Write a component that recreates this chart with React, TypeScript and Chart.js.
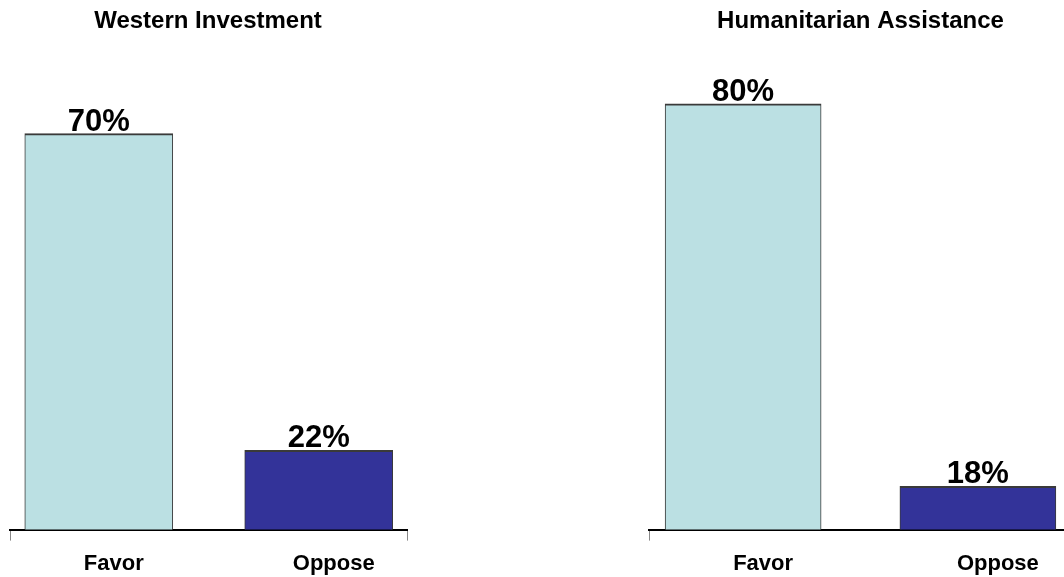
import React, { useEffect, useRef } from "react";
import { Chart, registerables } from "chart.js";

Chart.register(...registerables);

const categories = ["Favor", "Oppose"];
const westernValues = [70, 22];
const humanitarianValues = [80, 18];
const panelTitles = ["Western Investment", "Humanitarian Assistance"];
const barColors = ["#BBE0E3", "#333399"];

const FONT = "'Liberation Sans', Arial, Helvetica, sans-serif";
const CANVAS_H = 587;

const valueLabelPlugin = {
  id: "valueLabels",
  afterDatasetsDraw(chart: any, _args: any, opts: any) {
    const ctx = chart.ctx;
    ctx.save();
    ctx.font = `bold ${opts.size || 31}px ${FONT}`;
    ctx.fillStyle = "#000";
    ctx.textAlign = "center";
    ctx.textBaseline = "alphabetic";
    chart.data.datasets.forEach((ds: any, di: number) => {
      const meta = chart.getDatasetMeta(di);
      meta.data.forEach((el: any, i: number) => {
        const v = ds.data[i].y;
        ctx.fillText(`${v}%`, el.x + (opts.dx || 0), el.y - (opts.gap || 3));
      });
    });
    ctx.restore();
  },
};

type PanelProps = {
  title: string;
  values: number[];
  left: number;
  width: number;
  padLeft: number;
  padRight: number;
  xMin: number;
  xMax: number;
  yMin: number;
  yMax: number;
  barWidth: number;
  titleBottom: number;
  labelOffset: number;
};

function BarPanel(p: PanelProps) {
  const ref = useRef<HTMLCanvasElement | null>(null);
  useEffect(() => {
    if (!ref.current) return;
    const chart = new Chart(ref.current, {
      type: "bar",
      data: {
        datasets: [
          {
            data: p.values.map((v, i) => ({ x: i, y: v })),
            backgroundColor: barColors,
            borderColor: "#3a3a3a",
            borderWidth: { top: 2, left: 1, right: 1, bottom: 0 } as any,
            borderSkipped: "start",
            barThickness: p.barWidth,
          },
        ],
      },
      plugins: [valueLabelPlugin],
      options: {
        animation: false,
        responsive: false,
        maintainAspectRatio: false,
        layout: { padding: { left: p.padLeft, right: p.padRight, top: 0, bottom: 0 } },
        plugins: {
          legend: { display: false },
          tooltip: { enabled: false },
          title: {
            display: true,
            text: p.title,
            color: "#000",
            font: { family: FONT, size: 24, weight: "bold" },
            padding: { top: 7, bottom: p.titleBottom },
          },
          valueLabels: { size: 31, gap: 3, dx: 0 },
        } as any,
        scales: {
          x: {
            type: "linear",
            min: p.xMin,
            max: p.xMax,
            bounds: "data",
            offset: false,
            afterBuildTicks: (scale: any) => {
              scale.ticks = [scale.min, 0, 1, scale.max].map((value: number) => ({ value }));
            },
            grid: {
              display: true,
              offset: false,
              drawOnChartArea: false,
              drawTicks: true,
              tickLength: 11,
              tickWidth: 1,
              tickColor: (ctx: any) =>
                ctx.tick && (ctx.tick.value === 0 || ctx.tick.value === 1)
                  ? "rgba(0,0,0,0)"
                  : "#888888",
            },
            border: { display: true, color: "#000", width: 2 },
            ticks: {
              autoSkip: false,
              maxRotation: 0,
              padding: 10,
              labelOffset: p.labelOffset,
              color: "#000",
              font: { family: FONT, size: 22, weight: "bold" },
              callback: (value: any) =>
                value === 0 ? categories[0] : value === 1 ? categories[1] : "",
            },
          },
          y: {
            display: false,
            min: p.yMin,
            max: p.yMax,
          },
        },
      } as any,
    });
    return () => chart.destroy();
  }, []);
  return (
    <canvas
      ref={ref}
      width={p.width}
      height={CANVAS_H}
      style={{ position: "absolute", left: p.left, top: 0, width: p.width, height: CANVAS_H }}
    />
  );
}

export default function App() {
  return (
    <div
      style={{
        position: "fixed",
        left: 0,
        top: 0,
        width: 1064,
        height: 577,
        overflow: "hidden",
        background: "#fff",
      }}
    >
      <BarPanel
        title={panelTitles[0]}
        values={westernValues}
        left={0}
        width={466}
        padLeft={9}
        padRight={59}
        xMin={-0.4036}
        xMax={1.4014}
        yMin={10}
        yMax={80}
        barWidth={148}
        titleBottom={31.8}
        labelOffset={15}
      />
      <BarPanel
        title={panelTitles[1]}
        values={humanitarianValues}
        left={620}
        width={583}
        padLeft={29}
        padRight={131}
        xMin={-0.4009}
        xMax={1.4009}
        yMin={11}
        yMax={90}
        barWidth={156}
        titleBottom={6.2}
        labelOffset={20}
      />
    </div>
  );
}
